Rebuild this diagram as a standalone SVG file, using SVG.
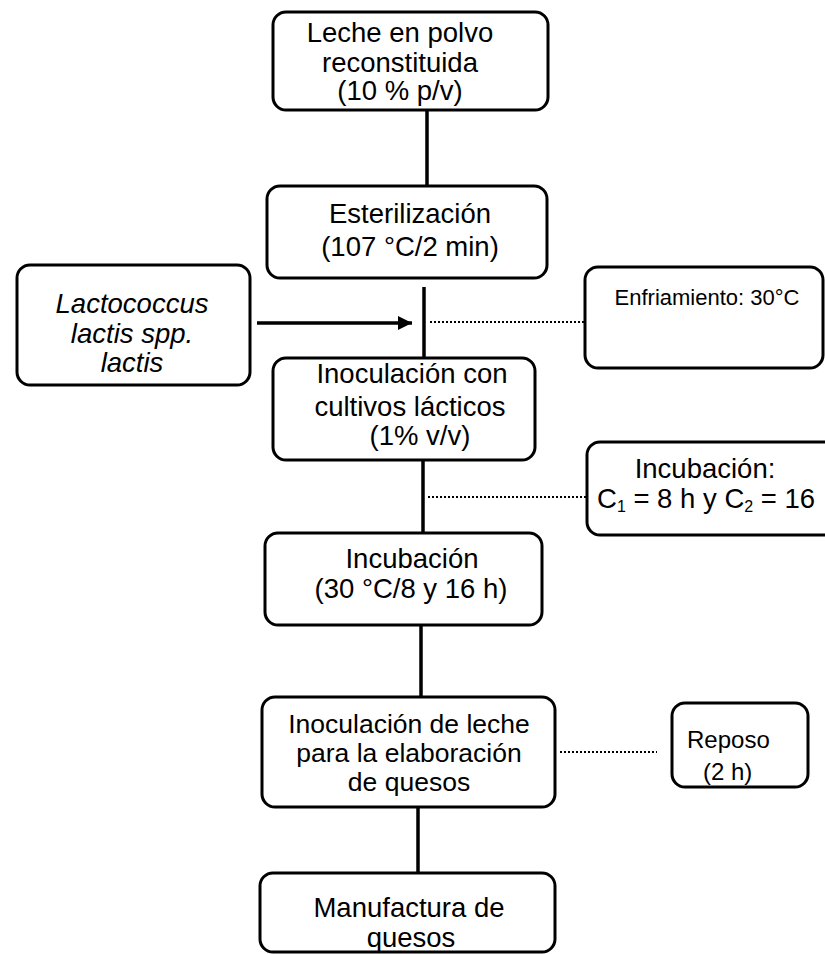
<svg xmlns="http://www.w3.org/2000/svg" width="825" height="954" viewBox="0 0 825 954">
<defs>
<style>
.box{fill:#fff;stroke:#000;stroke-width:3}
.t{font-family:"Liberation Sans",Arial,sans-serif;font-size:27.5px;fill:#000;text-anchor:middle}
.t5{font-family:"Liberation Sans",Arial,sans-serif;font-size:26.5px;fill:#000;text-anchor:middle}
.tl{font-family:"Liberation Sans",Arial,sans-serif;font-size:27.5px;fill:#000;text-anchor:start}
.tr{font-family:"Liberation Sans",Arial,sans-serif;font-size:24px;fill:#000;text-anchor:start}
.ts{font-family:"Liberation Sans",Arial,sans-serif;font-size:22px;fill:#000;text-anchor:middle}
.it{font-style:italic}
.sub{font-size:16px}
.ln{stroke:#000;stroke-width:3.5;fill:none}
.dot{stroke:#000;stroke-width:2;stroke-dasharray:2 2;fill:none}
</style>
<marker id="ah" viewBox="0 0 10 10" refX="10" refY="5" markerWidth="4" markerHeight="4" orient="auto" markerUnits="strokeWidth">
<path d="M0,0 L10,5 L0,10 z" fill="#000"/>
</marker>
</defs>
<rect width="825" height="954" fill="#fff"/>
<g id="connectors">
<line class="ln" x1="427" y1="110" x2="427" y2="186"/>
<line class="ln" x1="424" y1="287" x2="424" y2="358"/>
<line class="ln" x1="257" y1="323" x2="412" y2="323" marker-end="url(#ah)"/>
<line class="dot" x1="430" y1="322" x2="585" y2="322"/>
<line class="ln" x1="423" y1="460" x2="423" y2="533"/>
<line class="dot" x1="428" y1="497" x2="587" y2="497"/>
<line class="ln" x1="421" y1="625" x2="421" y2="697"/>
<line class="dot" x1="560" y1="752" x2="657" y2="752"/>
<line class="ln" x1="418" y1="807" x2="418" y2="873"/>
</g>
<g id="n1">
<rect class="box" x="273" y="12" width="275" height="98" rx="13"/>
<text class="t" x="400" y="42">Leche en polvo</text>
<text class="t" x="400" y="72">reconstituida</text>
<text class="t" x="400" y="100">(10 % p/v)</text>
</g>
<g id="n2">
<rect class="box" x="267" y="186" width="280" height="92" rx="13"/>
<text class="t" x="410" y="223">Esterilización</text>
<text class="t" x="410" y="256">(107 °C/2 min)</text>
</g>
<g id="n_lacto">
<rect class="box" x="17" y="265" width="233" height="120" rx="13"/>
<text class="t it" x="132" y="313">Lactococcus</text>
<text class="t it" x="132" y="343">lactis spp.</text>
<text class="t it" x="132" y="372">lactis</text>
</g>
<g id="n_enfr">
<rect class="box" x="585" y="267" width="238" height="101" rx="13"/>
<text class="ts" x="707" y="305">Enfriamiento: 30°C</text>
</g>
<g id="n3">
<rect class="box" x="273" y="358" width="262" height="102" rx="13"/>
<text class="t" x="412" y="383">Inoculación con</text>
<text class="t" x="410" y="416">cultivos lácticos</text>
<text class="t" x="420" y="445">(1% v/v)</text>
</g>
<g id="n_incub_note">
<rect class="box" x="587" y="442" width="250" height="93" rx="13"/>
<text class="t" x="705" y="478">Incubación:</text>
<text class="tl" x="597" y="508">C<tspan class="sub" dy="4">1</tspan><tspan dy="-4"> = 8 h y C</tspan><tspan class="sub" dy="4">2</tspan><tspan dy="-4"> = 16</tspan></text>
</g>
<g id="n4">
<rect class="box" x="265" y="533" width="277" height="92" rx="13"/>
<text class="t" x="412" y="568">Incubación</text>
<text class="t" x="411" y="598">(30 °C/8 y 16 h)</text>
</g>
<g id="n5">
<rect class="box" x="262" y="697" width="293" height="110" rx="13"/>
<text class="t5" x="409" y="733">Inoculación de leche</text>
<text class="t5" x="409" y="762">para la elaboración</text>
<text class="t5" x="409" y="791">de quesos</text>
</g>
<g id="n_reposo">
<rect class="box" x="672" y="703" width="136" height="84" rx="13"/>
<text class="tr" x="687" y="748">Reposo</text>
<text class="tr" x="703" y="780">(2 h)</text>
</g>
<g id="n6">
<rect class="box" x="260" y="873" width="295" height="79" rx="13"/>
<text class="t" x="409" y="917">Manufactura de</text>
<text class="t" x="411" y="947">quesos</text>
</g>
</svg>
